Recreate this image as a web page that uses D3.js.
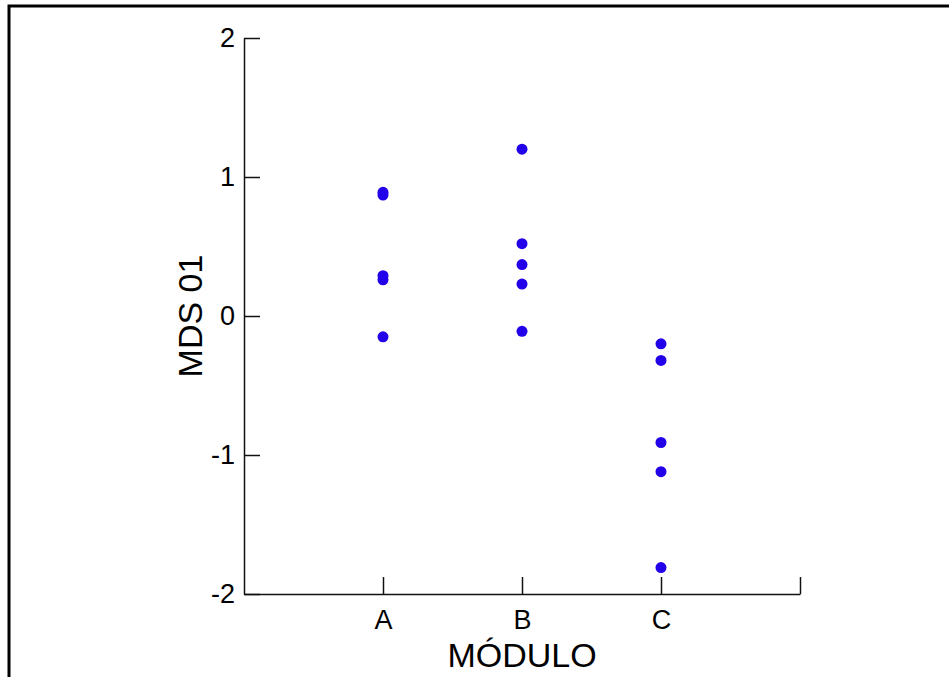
<!DOCTYPE html>
<html>
<head>
<meta charset="utf-8">
<script src="https://cdn.jsdelivr.net/npm/d3@7"></script>
<style>
  body { margin: 0; background: #fff; }
  svg text { font-family: "Liberation Sans", Arial, sans-serif; fill: #000; }
</style>
</head>
<body>
<div id="plot"></div>
<script>
// module categories and MDS 01 scores
const modules = ["A", "B", "C"];
const moduloA = [0.89, 0.87, 0.29, 0.26, -0.15];
const moduloB = [1.20, 0.52, 0.37, 0.23, -0.11];
const moduloC = [-0.20, -0.32, -0.91, -1.12, -1.81];
const yTicks = [-2, -1, 0, 1, 2];

const points = [];
[moduloA, moduloB, moduloC].forEach((vals, i) => {
    vals.forEach(v => points.push({ mod: i + 1, value: v }));
});

const W = 949, H = 677;
const svg = d3.select("#plot")
    .append("svg")
    .attr("width", W)
    .attr("height", H);

// frame (only top and left edges are visible)
svg.append("path")
    .attr("d", "M9,677V6H949")
    .attr("fill", "none")
    .attr("stroke", "#000")
    .attr("stroke-width", 3);

const x = d3.scaleLinear().domain([0, 4]).range([244, 800]);
const y = d3.scaleLinear().domain([-2, 2]).range([594, 38]);

// Y axis, ticks pointing inward
const gy = svg.append("g")
    .attr("transform", "translate(" + x(0) + ",0)")
    .call(d3.axisLeft(y).tickValues(yTicks).tickSize(-16).tickSizeOuter(0).tickPadding(9)
        .tickFormat(d => String(d)));

// X axis, ticks pointing up
const gx = svg.append("g")
    .attr("transform", "translate(0," + y(-2) + ")")
    .call(d3.axisBottom(x).tickValues([1, 2, 3, 4]).tickSize(-17).tickSizeOuter(0).tickPadding(16)
        .tickFormat(d => modules[d - 1] || ""));

[gx, gy].forEach(g => {
    g.selectAll("path, line").attr("stroke", "#111").attr("stroke-width", 1.5);
    g.selectAll("text").style("font-size", "27px").attr("fill", "#000");
});

svg.append("text")
    .attr("x", x(2))
    .attr("y", 667)
    .attr("text-anchor", "middle")
    .style("font-size", "34px")
    .text("MÓDULO");

svg.append("text")
    .attr("transform", "translate(202," + y(0) + ")rotate(-90)")
    .attr("text-anchor", "middle")
    .style("font-size", "34px")
    .text("MDS 01");

svg.selectAll("circle.pt")
    .data(points)
    .enter()
    .append("circle")
    .attr("class", "pt")
    .attr("cx", d => x(d.mod))
    .attr("cy", d => y(d.value))
    .attr("r", 5.5)
    .attr("fill", "#2200ea");
</script>
</body>
</html>
